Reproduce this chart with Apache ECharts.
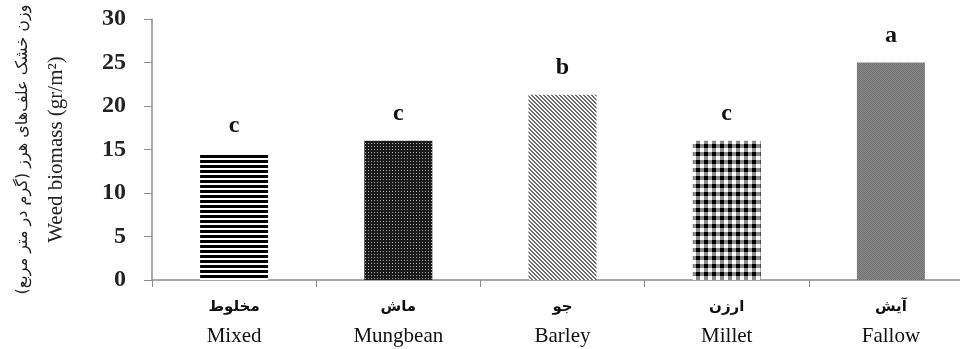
<!DOCTYPE html>
<html>
<head>
<meta charset="utf-8">
<script src="https://cdn.jsdelivr.net/npm/echarts@6/dist/echarts.min.js"></script>
<style>
  html, body { margin: 0; padding: 0; background: #fff; }
  #main { width: 960px; height: 349px; }
</style>
</head>
<body>
<div id="main"></div>
<script>
var categoriesFa = ['مخلوط', 'ماش', 'جو', 'ارزن', 'آیش'];
var categoriesEn = ['Mixed', 'Mungbean', 'Barley', 'Millet', 'Fallow'];
var biomass = [14.6, 16.0, 21.3, 16.0, 25.0];
var letters = ['c', 'c', 'b', 'c', 'a'];
var yTicks = [0, 5, 10, 15, 20, 25, 30];

// small canvas tiles for the bar fills
function tile(size, draw) {
    var c = document.createElement('canvas');
    c.width = size;
    c.height = size;
    draw(c.getContext('2d'), size);
    return c;
}

var patterns = [
    // horizontal lines
    tile(5, function(g, s) {
        g.fillStyle = '#fff'; g.fillRect(0, 0, s, s);
        g.fillStyle = '#000'; g.fillRect(0, 0, s, 3);
    }),
    // fine dark checker
    tile(3, function(g, s) {
        g.fillStyle = '#1a1a1a'; g.fillRect(0, 0, s, s);
        g.fillStyle = '#aaa'; g.fillRect(2, 2, 1, 1);
    }),
    // diagonal lines
    tile(4, function(g, s) {
        g.fillStyle = '#fff'; g.fillRect(0, 0, s, s);
        g.fillStyle = '#6a6a6a';
        for (var i = 0; i < s; i++) {
            g.fillRect(i, i, 1, 1);
            g.fillRect((i + 1) % s, i, 1, 1);
        }
    }),
    // plaid: black where stripes cross, white where none
    tile(8, function(g, s) {
        g.fillStyle = '#fff'; g.fillRect(0, 0, s, s);
        g.fillStyle = '#8a8a8a';
        g.fillRect(0, 0, s, 4);
        g.fillRect(0, 0, 4, s);
        g.fillStyle = '#000';
        g.fillRect(0, 0, 4, 4);
    }),
    // dense gray
    tile(2, function(g, s) {
        g.fillStyle = '#8a8a8a'; g.fillRect(0, 0, s, s);
        g.fillStyle = '#707070'; g.fillRect(0, 0, 1, 1); g.fillRect(1, 1, 1, 1);
    })
];

var myChart = echarts.init(document.getElementById('main'), null, { renderer: 'canvas' });

var option = {
    animation: false,
    grid: { left: 152, top: 19, bottom: 69, width: 821, outerBoundsMode: 'none', containLabel: false },
    xAxis: {
        type: 'category',
        data: categoriesEn,
        axisLine: { lineStyle: { color: '#8c8c8c', width: 1.5 } },
        axisTick: { show: true, length: 7, lineStyle: { color: '#8c8c8c' } },
        axisLabel: {
            margin: 12,
            interval: 0,
            formatter: function(v, i) {
                return '{fa|' + categoriesFa[i] + '}\n{en|' + v + '}';
            },
            rich: {
                fa: { fontFamily: 'DejaVu Sans', fontWeight: 'bold', fontSize: 15, color: '#111', lineHeight: 30 },
                en: { fontFamily: 'Liberation Serif', fontSize: 21, color: '#111', lineHeight: 28 }
            }
        }
    },
    yAxis: {
        type: 'value',
        min: 0,
        max: 30,
        interval: 5,
        splitLine: { show: false },
        axisLine: { show: true, lineStyle: { color: '#8c8c8c', width: 1.5 } },
        axisTick: { show: true, length: 8, lineStyle: { color: '#8c8c8c' } },
        axisLabel: {
            margin: 26,
            fontFamily: 'Liberation Serif',
            fontWeight: 'bold',
            fontSize: 24,
            color: '#222',
            formatter: function(v) { return yTicks.indexOf(v) >= 0 ? String(v) : ''; }
        },
        name: '{fa|وزن خشک علف‌های هرز (گرم در متر مربع)}\n{en|Weed biomass (gr/m²)}',
        nameLocation: 'middle',
        nameRotate: 90,
        nameGap: 80,
        nameTextStyle: {
            rich: {
                fa: { fontFamily: 'DejaVu Sans', fontSize: 16, color: '#222', lineHeight: 34 },
                en: { fontFamily: 'Liberation Serif', fontSize: 21, color: '#222', lineHeight: 32 }
            }
        }
    },
    series: [{
        type: 'bar',
        barWidth: 68,
        data: biomass.map(function(v, i) {
            return {
                value: v,
                itemStyle: { color: { image: patterns[i], repeat: 'repeat' } }
            };
        }),
        label: {
            show: true,
            position: 'top',
            distance: 15,
            fontFamily: 'Liberation Serif',
            fontWeight: 'bold',
            fontSize: 24,
            color: '#111',
            formatter: function(p) { return letters[p.dataIndex]; }
        }
    }]
};

myChart.setOption(option);
</script>
</body>
</html>
